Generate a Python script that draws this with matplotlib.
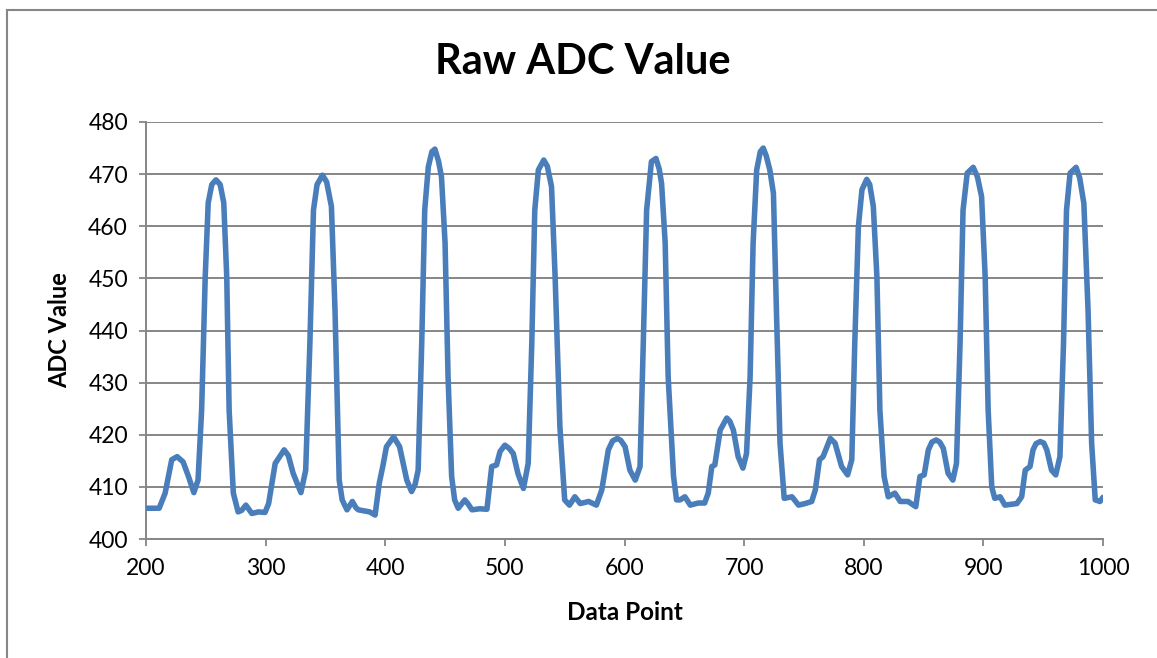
import matplotlib.pyplot as plt
from matplotlib.lines import Line2D

# data points (data point index, raw ADC value)
data_point = [
    200, 211, 216, 221.5, 226, 231, 235.5, 240, 243.5, 246.5, 249.5, 252, 255, 258.5, 262, 265,
    267.5, 269.5, 273, 277, 280, 283.5, 288.5, 294, 299.5,
    302.5, 308, 315.5, 319, 323, 329.5, 333.5, 337, 340, 343, 347.5, 351, 355, 358, 361.5, 364,
    368, 372.5, 375.5, 377.5, 387, 391.5, 395, 398,
    401, 407, 412, 418, 422, 425, 427.5, 430.5, 433, 436, 439, 441.5, 444.5, 447, 450, 452.5,
    455.5, 458, 461, 466.5, 469, 472.5, 479, 485,
    489, 493, 496, 500, 503.5, 507, 511, 515.5, 519.5, 522.5, 525, 528, 532.5, 535.5, 539, 542,
    546, 550, 554, 558.5, 563, 570, 576.5, 581,
    586.5, 590, 594, 597, 600.5, 604.5, 609, 613, 615.7, 618.5, 622.5, 626.3, 629, 631, 634,
    636.5, 641, 643.5, 646.5, 650.5, 655, 661.5, 667, 670,
    673, 675.5, 680, 685.5, 688, 691, 695, 699, 702, 705, 707.5, 710.5, 713.5, 716, 718.5,
    721.5, 724.5, 727, 730, 733.5, 740, 745.5, 751, 756.5,
    759.5, 763, 766, 772, 776, 781.5, 786.5, 790, 792.5, 795.5, 798.5, 802.5, 805, 808, 811,
    813.5, 817, 820.5, 826, 830.5, 837, 843.5,
    847, 850.5, 854, 857, 860.5, 863.5, 866.5, 870.5, 874.5, 877.5, 880.5, 883, 886.5, 891.5,
    895, 898.5, 901.5, 904, 907, 909.5, 914, 918, 928,
    932, 935, 939, 941.5, 944, 947.5, 950.5, 953, 957, 960.5, 964, 967, 969.5, 972.5, 977.5,
    980.5, 984, 987.5, 990.5, 993.5, 997.5, 1000,
]
adc_value = [
    405.9, 405.9, 408.8, 415.2, 415.8, 414.8, 412, 408.9, 411.3, 424.7, 450.3, 464.5, 468, 468.9, 468, 464.5,
    450.3, 424.7, 408.8, 405.2, 405.5, 406.5, 404.9, 405.2, 405.1,
    406.8, 414.5, 417.1, 416, 412.6, 408.9, 413.2, 437.6, 463.1, 468, 469.8, 468.5, 463.8, 443.9, 411.3, 407.5,
    405.6, 407.2, 406, 405.6, 405.2, 404.6, 410.7, 414,
    417.7, 419.6, 417.7, 411.3, 409.1, 410.5, 413.2, 437.6, 463.1, 471.4, 474.3, 474.8, 472.5, 469.5, 456.8, 431.1,
    412, 407.5, 405.9, 407.5, 406.8, 405.6, 405.8, 405.7,
    413.9, 414.2, 416.8, 418, 417.4, 416.4, 412.5, 409.7, 414.5, 437.6, 463.1, 470.8, 472.7, 471.5, 467.6, 450.3,
    421.5, 407.5, 406.5, 408.1, 406.8, 407.2, 406.5, 409.4,
    417.1, 418.8, 419.3, 418.9, 417.7, 413.2, 411.3, 413.9, 437.6, 463.1, 472.4, 473, 471, 468.2, 456.8,
    431.1, 412, 407.5, 407.5, 408.1, 406.5, 406.9, 406.9, 408.8,
    413.9, 414.2, 420.9, 423.2, 422.6, 420.9, 415.8, 413.6, 416.4, 431.1, 456.7, 470.8, 474.3, 475, 473.5,
    470.8, 466.3, 443.9, 418.4, 407.8, 408.1, 406.5, 406.8, 407.2,
    409.4, 415.2, 415.8, 419.3, 418.4, 413.9, 412.3, 415.2, 437.6, 459.9, 467, 469, 468, 463.8, 450.3,
    424.7, 412, 408.1, 408.8, 407.2, 407.2, 406.2,
    412, 412.3, 417.1, 418.6, 419, 418.6, 417.4, 412.6, 411.3, 414.5, 437.6, 463.1, 470.2, 471.3,
    469.5, 465.7, 450.3, 424.7, 410, 407.8, 408.1, 406.5, 406.8,
    408.1, 413.2, 413.9, 417.1, 418.3, 418.7, 418.4, 417.1, 413.2, 412.3, 415.8, 437.6, 463.1, 470.2, 471.3,
    469.3, 464.4, 443.9, 418.4, 407.5, 407.2, 408,
]

x_ticks = [200, 300, 400, 500, 600, 700, 800, 900, 1000]
y_ticks = [400, 410, 420, 430, 440, 450, 460, 470, 480]

plt.rcParams['font.family'] = ['Lato', 'DejaVu Sans']

fig = plt.figure(figsize=(11.57, 6.58), dpi=100)
ax = fig.add_axes([146 / 1157, 1 - 539 / 658, (1103 - 146) / 1157, (539 - 122) / 658])

ax.plot(data_point, adc_value, color='#4A7EBB', linewidth=4.0,
        solid_joinstyle='round', solid_capstyle='round', zorder=3)

ax.set_xlim(200, 1000)
ax.set_ylim(400, 480)
ax.set_xticks(x_ticks)
ax.set_yticks(y_ticks)
ax.tick_params(axis='both', labelsize=16.5, color='#868686', width=1.3, length=5)
ax.tick_params(axis='x', pad=9)
ax.tick_params(axis='y', pad=8)

ax.grid(axis='y', color='#868686', linewidth=1.4)
ax.set_axisbelow(True)
for side in ['top', 'right']:
    ax.spines[side].set_visible(False)
for side in ['left', 'bottom']:
    ax.spines[side].set_color('#868686')
    ax.spines[side].set_linewidth(1.4)

fig.text(583 / 1157, 1 - 62 / 658, 'Raw ADC Value', ha='center', va='center',
         fontsize=30, fontweight='bold')
fig.text(625 / 1157, 1 - 613 / 658, 'Data Point', ha='center', va='center',
         fontsize=17.5, fontweight='bold')
fig.text(60 / 1157, 1 - 330 / 658, 'ADC Value', ha='center', va='center',
         rotation=90, fontsize=17, fontweight='bold')

# outer chart border (only left and top edges are in the picture)
fig.add_artist(Line2D([7 / 1157, 7 / 1157], [0, 1 - 10 / 658], color='#868686', linewidth=1.5))
fig.add_artist(Line2D([7 / 1157, 1], [1 - 10 / 658, 1 - 10 / 658], color='#868686', linewidth=1.5))

plt.savefig('out.png', dpi=100)
